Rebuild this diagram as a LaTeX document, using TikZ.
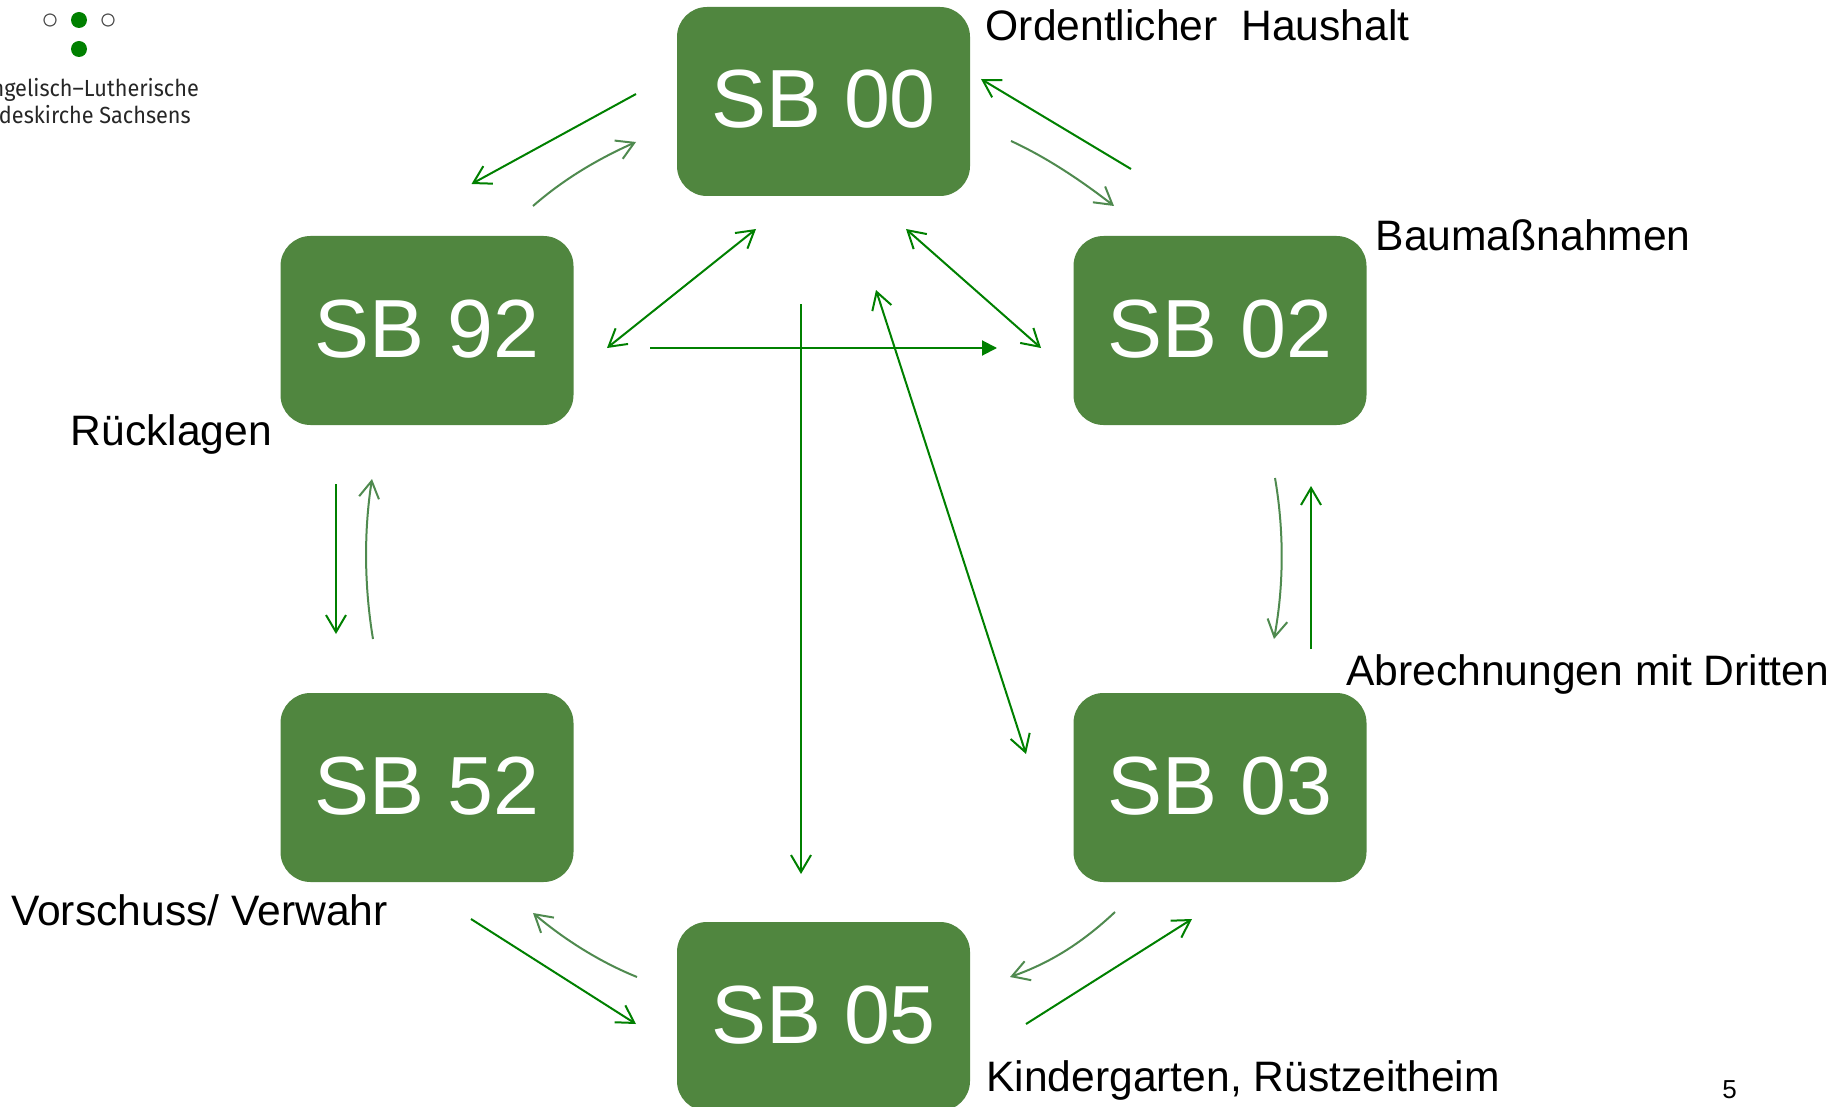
\documentclass[tikz,border=0pt]{standalone}
\usepackage{fontspec}
\setmainfont{Liberation Sans}
\newfontfamily\logofont[FakeStretch=0.93]{Fira Sans}
\usetikzlibrary{arrows.meta}
\definecolor{boxgreen}{HTML}{50863F}
\definecolor{linegreen}{HTML}{008000}
\definecolor{softgreen}{HTML}{4F8A4F}
\definecolor{ringgray}{HTML}{555555}
\tikzset{
  sbbox/.style={fill=boxgreen,draw=none,rounded corners=30pt,minimum width=293pt,minimum height=189pt,inner sep=0pt,text=white,text height=60pt,text depth=7pt,font=\fontsize{82.5}{82}\selectfont},
  lbl/.style={anchor=base west,inner sep=0pt,font=\fontsize{42.6}{44}\selectfont,text=black},
  logotext/.style={anchor=base east,inner sep=0pt,font=\logofont\fontsize{23.3}{26}\selectfont,text=black!85},
  barb/.style={-{Straight Barb[length=17pt,width=20pt]}},
  dbarb/.style={{Straight Barb[length=17pt,width=20pt]}-{Straight Barb[length=17pt,width=20pt]}},
  conn/.style={draw=linegreen,line width=2pt,barb},
  conn2/.style={draw=linegreen,line width=2pt,dbarb},
  soft/.style={draw=softgreen,line width=2pt,barb},
  ring/.style={circle,draw=ringgray,line width=1.2pt,fill=white,minimum size=12pt,inner sep=0pt},
  dot/.style={circle,fill=linegreen,draw=none,minimum size=16pt,inner sep=0pt},
}
\begin{document}
\begin{tikzpicture}[x=1pt,y=-1pt]
\useasboundingbox (0,0) rectangle (1833,1107);
\clip (0,0) rectangle (1833,1107);
% boxes
\node[sbbox] (sb00) at (823.5,101.5) {SB 00};
\node[sbbox] (sb92) at (427,330.5) {SB 92};
\node[sbbox] (sb02) at (1220,330.5) {SB 02};
\node[sbbox] (sb52) at (427,787.5) {SB 52};
\node[sbbox] (sb03) at (1220,787.5) {SB 03};
\node[sbbox] (sb05) at (823.5,1016.5) {SB 05};
% labels
\node[lbl] (l00) at (985.5,41) {Ordentlicher\ \ Haushalt};
\node[lbl] (l02) at (1375.5,251) {Baumaßnahmen};
\node[lbl] (l92) at (70.5,445) {Rücklagen};
\node[lbl] (l03) at (1346,685) {Abrechnungen mit Dritten};
\node[lbl] (l52) at (11,925) {Vorschuss/ Verwahr};
\node[lbl] (l05) at (986,1091) {Kindergarten, Rüstzeitheim};
\node[anchor=base,inner sep=0pt,font=\fontsize{26}{28}\selectfont] (pg) at (1729.5,1098) {5};
% logo
\node[ring] (r1) at (50,20) {};
\node[dot] (d1) at (79,20) {};
\node[ring] (r2) at (108,20) {};
\node[dot] (d2) at (79,49) {};
\node[logotext] (t1) at (199,97) {ngelisch–Lutherische};
\node[logotext] (t2) at (191,124) {ndeskirche Sachsens};
% connector end points
\coordinate (a1) at (636,94);   \coordinate (a2) at (471.5,184);
\coordinate (b1) at (533,206);  \coordinate (b2) at (636,142);
\coordinate (c1) at (1131,169); \coordinate (c2) at (981,79);
\coordinate (d3) at (1011,141); \coordinate (d4) at (1114,206);
\coordinate (e1) at (607,348);  \coordinate (e2) at (756,229);
\coordinate (f1) at (906,229);  \coordinate (f2) at (1041,348);
\coordinate (g1) at (650,348);  \coordinate (g2) at (997,348);
\coordinate (h1) at (801,304);  \coordinate (h2) at (801,874);
\coordinate (i1) at (876,290);  \coordinate (i2) at (1026,754);
\coordinate (j1) at (1275,478); \coordinate (j2) at (1274,639);
\coordinate (k1) at (1311,649); \coordinate (k2) at (1311,486);
\coordinate (l1) at (1115,912); \coordinate (l2) at (1010,977);
\coordinate (m1) at (1026,1024);\coordinate (m2) at (1192,919);
\coordinate (n1) at (336,484);  \coordinate (n2) at (336,634);
\coordinate (o1) at (373,639);  \coordinate (o2) at (372,479);
\coordinate (p1) at (637,977);  \coordinate (p2) at (533,913);
\coordinate (q1) at (471,919);  \coordinate (q2) at (636,1024);
% connectors
\draw[conn] (a1) -- (a2);
\draw[soft] (b1) .. controls (565,178) and (600,158) .. (b2);
\draw[conn] (c1) -- (c2);
\draw[soft] (d3) .. controls (1048,158) and (1083,182) .. (d4);
\draw[conn2] (e1) -- (e2);
\draw[conn2] (f1) -- (f2);
\draw[draw=linegreen,line width=2pt,-{Triangle[length=15pt,width=15pt]}] (g1) -- (g2);
\draw[conn] (h1) -- (h2);
\draw[conn2] (i1) -- (i2);
\draw[soft] (j1) .. controls (1284,530) and (1284,585) .. (j2);
\draw[conn] (k1) -- (k2);
\draw[soft] (l1) .. controls (1082,943) and (1050,963) .. (l2);
\draw[conn] (m1) -- (m2);
\draw[conn] (n1) -- (n2);
\draw[soft] (o1) .. controls (364,585) and (364,530) .. (o2);
\draw[soft] (p1) .. controls (600,962) and (565,940) .. (p2);
\draw[conn] (q1) -- (q2);
\end{tikzpicture}
\end{document}
